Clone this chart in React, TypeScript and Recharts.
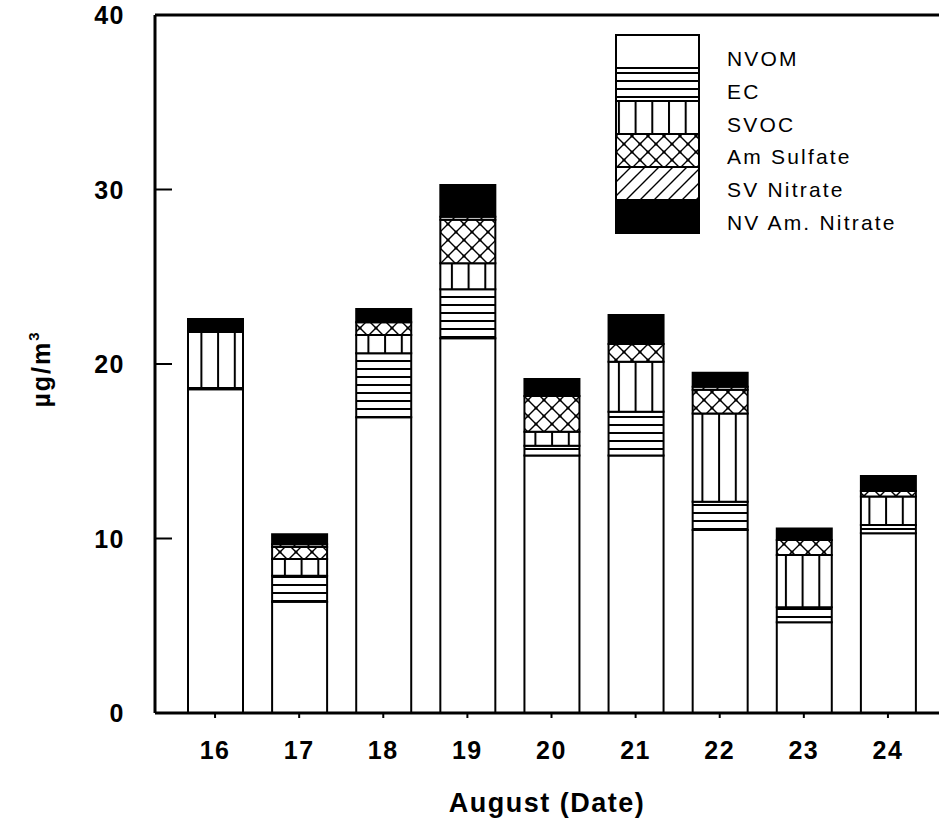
import React from 'react';
import { BarChart, Bar, XAxis, YAxis, ReferenceLine, Label } from 'recharts';

// ---- data (µg/m3), stacked bottom -> top ----
const dates = ['16', '17', '18', '19', '20', '21', '22', '23', '24'];
const nvom = [18.55, 6.38, 16.95, 21.47, 14.75, 14.75, 10.49, 5.2, 10.3];
const ec = [0.08, 1.49, 3.66, 2.81, 0.57, 2.52, 1.62, 0.86, 0.47];
const svoc = [3.2, 0.96, 1.05, 1.49, 0.8, 2.86, 5.06, 2.99, 1.63];
const amSulfate = [0, 0.69, 0.73, 2.5, 2.05, 1.02, 1.36, 0.86, 0.32];
const svNitrate = [0, 0.15, 0, 0.17, 0, 0, 0.17, 0, 0];
const nvAmNitrate = [0.75, 0.57, 0.76, 1.82, 0.97, 1.66, 0.8, 0.67, 0.86];
const yTicks = [0, 10, 20, 30, 40];
const seriesNames = ['NVOM', 'EC', 'SVOC', 'Am Sulfate', 'SV Nitrate', 'NV Am. Nitrate'];
const seriesKeys = ['nvom', 'ec', 'svoc', 'amSulfate', 'svNitrate', 'nvAmNitrate'];
const seriesFills = ['#fff', 'url(#pEC)', 'url(#pSVOC)', 'url(#pAmS)', 'url(#pSVN)', '#000'];

const data = dates.map((d, i) => ({
  date: d,
  nvom: nvom[i],
  ec: ec[i],
  svoc: svoc[i],
  amSulfate: amSulfate[i],
  svNitrate: svNitrate[i],
  nvAmNitrate: nvAmNitrate[i],
}));

const FONT = '"Liberation Sans", Arial, Helvetica, sans-serif';

const Patterns = () => (
  <defs>
    <pattern id="pEC" patternUnits="userSpaceOnUse" width="8" height="8">
      <rect width="8" height="8" fill="#fff" />
      <rect x="0" y="0" width="8" height="2" fill="#000" />
    </pattern>
    <pattern id="pSVOC" patternUnits="userSpaceOnUse" width="16.7" height="8">
      <rect width="16.7" height="8" fill="#fff" />
      <rect x="0" y="0" width="2" height="8" fill="#000" />
    </pattern>
    <pattern id="pAmS" patternUnits="userSpaceOnUse" width="16" height="16">
      <rect width="16" height="16" fill="#fff" />
      <path d="M0,0 L16,16 M16,0 L0,16" stroke="#000" strokeWidth="1.4" />
      <circle cx="8" cy="8" r="1.6" fill="#000" />
      <circle cx="0" cy="0" r="1.6" fill="#000" />
      <circle cx="16" cy="0" r="1.6" fill="#000" />
      <circle cx="0" cy="16" r="1.6" fill="#000" />
      <circle cx="16" cy="16" r="1.6" fill="#000" />
    </pattern>
    <pattern id="pSVN" patternUnits="userSpaceOnUse" width="14" height="14">
      <rect width="14" height="14" fill="#fff" />
      <path d="M-2,2 L2,-2 M0,14 L14,0 M12,16 L16,12" stroke="#000" strokeWidth="1.4" />
    </pattern>
  </defs>
);

const YTick = (props: any) => {
  const { x, y, payload } = props;
  return (
    <g>
      <line x1={x} x2={x + 17} y1={y} y2={y} stroke="#000" strokeWidth={2} />
      <text
        x={x - 30}
        y={y}
        dy="0.36em"
        textAnchor="end"
        fontFamily={FONT}
        fontWeight="bold"
        fontSize={25}
        letterSpacing={1.5}
        fill="#000"
      >
        {payload.value}
      </text>
    </g>
  );
};

const XTick = (props: any) => {
  const { x, y, payload } = props;
  return (
    <text
      x={x}
      y={y}
      dy="0.71em"
      textAnchor="middle"
      fontFamily={FONT}
      fontWeight="bold"
      fontSize={25}
      letterSpacing={1.5}
      fill="#000"
    >
      {payload.value}
    </text>
  );
};

const YTitle = (props: any) => {
  const vb = props.viewBox || { x: 0, y: 15, width: 155, height: 698 };
  const cx = vb.x + 41;
  const cy = vb.y + vb.height / 2 + 5;
  return (
    <text
      x={cx}
      y={cy}
      transform={`rotate(-90 ${cx} ${cy})`}
      textAnchor="middle"
      dy="0.35em"
      fontFamily={FONT}
      fontWeight="bold"
      fontSize={25}
      letterSpacing={2}
      fill="#000"
    >
      µg/m
      <tspan fontSize={15} dy="-0.75em">3</tspan>
    </text>
  );
};

const XTitle = (props: any) => {
  const vb = props.viewBox || { x: 155, y: 713, width: 784, height: 113 };
  return (
    <text
      x={vb.x + vb.width / 2}
      y={vb.y + 99}
      textAnchor="middle"
      fontFamily={FONT}
      fontWeight="bold"
      fontSize={27}
      letterSpacing={1.5}
      fill="#000"
    >
      August (Date)
    </text>
  );
};

const LegendBox = () => {
  const left = 616;
  const top = 35;
  const w = 83;
  const h = 33;
  return (
    <svg width={939} height={260} style={{ position: 'absolute', left: 0, top: 0, pointerEvents: 'none' }}>
      {seriesNames.map((name, i) => (
        <g key={name}>
          <rect
            x={left}
            y={top + i * h}
            width={w}
            height={h}
            fill={seriesFills[i]}
            stroke="#000"
            strokeWidth={2}
          />
          <text
            x={727}
            y={top + i * 32.8 + 31}
            fontFamily={FONT}
            fontSize={21}
            letterSpacing={2.2}
            fill="#000"
          >
            {name}
          </text>
        </g>
      ))}
    </svg>
  );
};

export default function App() {
  return (
    <div style={{ position: 'relative', width: 939, height: 826, background: '#fff' }}>
      <style>{`body{margin:0;}`}</style>
      <BarChart
        width={939}
        height={826}
        data={data}
        margin={{ top: 15, right: 0, left: 0, bottom: 0 }}
        barCategoryGap={0}
      >
        <Patterns />
        <XAxis
          dataKey="date"
          height={113}
          padding={{ left: 18, right: 9 }}
          axisLine={{ stroke: '#000', strokeWidth: 3 }}
          tickLine={{ stroke: '#000', strokeWidth: 2 }}
          tickSize={5}
          tickMargin={23}
          tick={<XTick />}
          interval={0}
        >
          <Label content={<XTitle />} />
        </XAxis>
        <YAxis
          width={155}
          domain={[0, 40]}
          ticks={yTicks}
          axisLine={{ stroke: '#000', strokeWidth: 3 }}
          tickLine={false}
          tickSize={0}
          tickMargin={0}
          tick={<YTick />}
          interval={0}
          allowDataOverflow
        >
          <Label content={<YTitle />} />
        </YAxis>
        <ReferenceLine y={40} stroke="#000" strokeWidth={3} />
        {seriesKeys.map((k, i) => (
          <Bar
            key={k}
            dataKey={k}
            name={seriesNames[i]}
            stackId="a"
            barSize={55}
            fill={seriesFills[i]}
            stroke="#000"
            strokeWidth={2}
            isAnimationActive={false}
          />
        ))}
      </BarChart>
      <LegendBox />
    </div>
  );
}
